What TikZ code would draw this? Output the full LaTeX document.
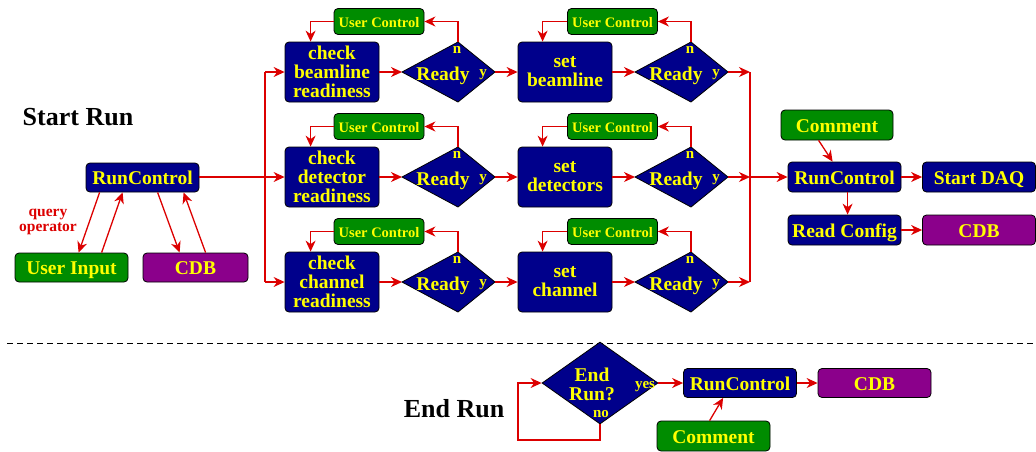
\documentclass[tikz,border=0pt]{standalone}
\usepackage{fontspec}
\setmainfont{Liberation Serif}
\usetikzlibrary{arrows.meta,shapes.geometric,calc}
\definecolor{boxblue}{RGB}{0,0,139}
\definecolor{boxgreen}{RGB}{0,140,0}
\definecolor{boxpurple}{RGB}{139,0,139}
\definecolor{arrred}{RGB}{220,0,0}
\definecolor{txtyellow}{RGB}{255,255,0}
\newcommand\fsz[2]{\fontsize{#1}{#2}\selectfont\bfseries}
\begin{document}
\begin{tikzpicture}[x=1pt,y=-1pt,
  box/.style={draw=black, line width=0.8pt, rounded corners=4pt, text=txtyellow, inner sep=0pt, align=center, font=\fsz{19.5}{19}},
  bluebox/.style={box, fill=boxblue},
  greenbox/.style={box, fill=boxgreen},
  purplebox/.style={box, fill=boxpurple},
  oneline/.style={text height=14pt, text depth=0pt},
  ucbox/.style={greenbox, minimum width=90pt, minimum height=26pt, font=\fsz{14.5}{15}, text height=11.5pt, text depth=0pt},
  stepbox/.style={bluebox, minimum width=94pt, minimum height=60pt},
  widebox/.style={oneline, minimum width=113pt, minimum height=30pt},
  arr/.style={draw=arrred, line width=1.3pt, -{Stealth[length=11pt,width=10pt,inset=3.5pt]}},
  redline/.style={draw=arrred, line width=1.3pt},
  lbl/.style={text=txtyellow, font=\fsz{15}{15}, inner sep=0pt, anchor=base},
  ready/.pic={
    \path[fill=boxblue, draw=black, line width=0.8pt] (-56,0) coordinate (-w) -- (0,-30) coordinate (-n) -- (37,0) coordinate (-e) -- (0,30) coordinate (-s) -- cycle;
    \node[lbl, font=\fsz{19.5}{19}] at (-15,8) {Ready};
    \node[lbl] at (-1,-19) {n};
    \node[lbl] at (25,4) {y};
  }
]
\useasboundingbox (0,0) rectangle (1036,451);

% titles
\node[font=\fsz{26}{26}, anchor=base, inner sep=0pt] (title1) at (78,125) {Start Run};
\node[font=\fsz{26}{26}, anchor=base, inner sep=0pt] (title2) at (454,417) {End Run};

% left cluster
\node[bluebox, widebox, minimum height=29pt] (rcl) at (142.5,177.5) {RunControl};
\node[greenbox, widebox, minimum height=29pt] (ui) at (71.5,267.5) {User Input};
\node[purplebox, oneline, minimum width=105pt, minimum height=29pt] (cdbl) at (195.5,267.5) {CDB};
\draw[arr] ($(rcl.south west)+(14,0)$) -- ($(ui.north west)+(64,0)$);
\draw[arr] ($(ui.north west)+(87,0)$) -- ($(rcl.south west)+(37,0)$);
\draw[arr] ($(rcl.south west)+(72,0)$) -- ($(cdbl.north west)+(37,0)$);
\draw[arr] ($(cdbl.north west)+(63,0)$) -- ($(rcl.south west)+(98,0)$);
\node[text=arrred, font=\fsz{15.5}{15.5}, align=center, inner sep=0pt] (qo) at (48,222) {query\\operator};

% three rows
\foreach \y/\ck/\st/\n in {72/{check\\beamline\\readiness}/{set\\beamline}/a,
                           177/{check\\detector\\readiness}/{set\\detectors}/b,
                           282/{check\\channel\\readiness}/{set\\channel}/c}{
  \node[stepbox] (ck\n) at (332,\y) {\ck};
  \node[stepbox] (st\n) at (565,\y) {\st};
  \pic (ra\n) at (458,\y) {ready};
  \pic (rb\n) at (691,\y) {ready};
  \node[ucbox] (uca\n) at (379,\y-50.5) {User Control};
  \node[ucbox] (ucb\n) at (612.5,\y-50.5) {User Control};
  \coordinate (lb\n) at (265,\y);
  \coordinate (bus\n) at (750,\y);
  \draw[arr] (ck\n) -- (ra\n-w);
  \draw[arr] (ra\n-e) -- (st\n);
  \draw[arr] (st\n) -- (rb\n-w);
  \draw[arr] (rb\n-e) -- (bus\n);
  \draw[arr] (ra\n-n) |- (uca\n);
  \draw[arr] (rb\n-n) |- (ucb\n);
  \draw[arr] (uca\n.west) -| ($(ck\n.north west)+(26,0)$);
  \draw[arr] (ucb\n.west) -| ($(st\n.north west)+(25,0)$);
}
\draw[redline] (lba) -- (lbc);
\draw[arr] (lba) -- (cka);
\draw[arr] (lbc) -- (ckc);
\draw[arr] (rcl.east |- ckb) -- (ckb);
\draw[redline] (busa) -- (busc);

% right cluster
\node[greenbox, widebox, minimum width=112pt] (cm1) at (837,125) {Comment};
\node[bluebox, widebox] (rcr) at (844.5,177) {RunControl};
\node[bluebox, widebox] (daq) at (979,177) {Start DAQ};
\node[bluebox, widebox] (rdc) at (844.5,230) {Read Config};
\node[purplebox, widebox] (cdbr) at (979,230) {CDB};
\draw[arr] (busb) -- (rcr);
\draw[arr] ($(cm1.south west)+(38,0)$) -- ($(rcr.north west)+(45,0)$);
\draw[arr] (rcr) -- (daq);
\draw[arr] ($(rcr.south west)+(60,0)$) -- ($(rdc.north west)+(60,0)$);
\draw[arr] (rdc) -- (cdbr);

% separator
\coordinate (sep1) at (7,343);
\coordinate (sep2) at (1036,343);
\draw[dash pattern=on 6pt off 4pt, line width=0.8pt] (sep1) -- (sep2);

% end run
\node[diamond, fill=boxblue, draw=black, line width=0.8pt, minimum width=116pt, minimum height=82pt, inner sep=0pt] (erd) at (600,383) {};
\node[text=txtyellow, font=\fsz{19.5}{19}, align=center, inner sep=0pt] (ert) at (592,384) {End\\Run?};
\node[lbl] (yes) at (645,388) {yes};
\node[lbl] (no) at (601,417) {no};
\coordinate (lp) at (518,440);
\draw[arr] (erd.south) |- (lp) |- (erd.west);
\node[bluebox, widebox, minimum height=29pt] (rce) at (740,383) {RunControl};
\node[purplebox, widebox, minimum height=29pt] (cdbe) at (874.5,383) {CDB};
\node[greenbox, widebox] (cme) at (713.5,436) {Comment};
\draw[arr] (erd.east) -- (rce.west);
\draw[arr] (rce) -- (cdbe);
\draw[arr] ($(cme.north west)+(53,0)$) -- ($(rce.south west)+(40,0)$);
\end{tikzpicture}
\end{document}
